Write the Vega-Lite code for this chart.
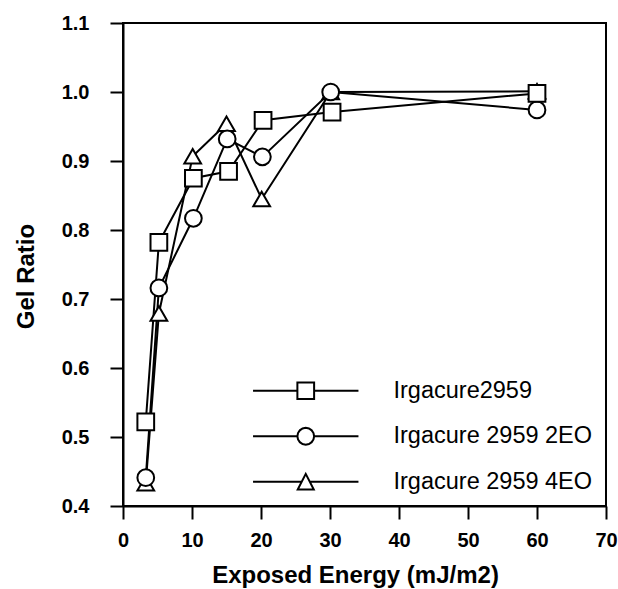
{
  "$schema": "https://vega.github.io/schema/vega-lite/v6.json",
  "autosize": {"type": "none"},
  "padding": {"left": 123, "top": 23, "right": 12, "bottom": 83},
  "width": 483,
  "height": 483,
  "background": "white",
  "config": {
    "font": "Liberation Sans",
    "view": {"stroke": "black", "strokeWidth": 2},
    "axis": {
      "domainColor": "black",
      "domainWidth": 2,
      "tickColor": "black",
      "tickWidth": 2,
      "tickSize": 13,
      "grid": false,
      "labelFont": "Liberation Sans",
      "labelFontWeight": "bold",
      "labelFontSize": 20,
      "labelColor": "black",
      "labelFlush": false,
      "labelOverlap": false,
      "titleFont": "Liberation Sans",
      "titleFontWeight": "bold",
      "titleColor": "black"
    }
  },
  "data": {
    "values": [
      {"series": "Irgacure 2959 4EO", "energy": 3.3, "gel": 0.433},
      {"series": "Irgacure 2959 4EO", "energy": 5.2, "gel": 0.679},
      {"series": "Irgacure 2959 4EO", "energy": 10.1, "gel": 0.907},
      {"series": "Irgacure 2959 4EO", "energy": 15.0, "gel": 0.954},
      {"series": "Irgacure 2959 4EO", "energy": 20.1, "gel": 0.845},
      {"series": "Irgacure 2959 4EO", "energy": 30.1, "gel": 1.0},
      {"series": "Irgacure 2959 4EO", "energy": 60.0, "gel": 1.001},
      {"series": "Irgacure 2959 2EO", "energy": 3.3, "gel": 0.441},
      {"series": "Irgacure 2959 2EO", "energy": 5.2, "gel": 0.716},
      {"series": "Irgacure 2959 2EO", "energy": 10.2, "gel": 0.817},
      {"series": "Irgacure 2959 2EO", "energy": 15.1, "gel": 0.932},
      {"series": "Irgacure 2959 2EO", "energy": 20.2, "gel": 0.906},
      {"series": "Irgacure 2959 2EO", "energy": 30.1, "gel": 1.0},
      {"series": "Irgacure 2959 2EO", "energy": 60.0, "gel": 0.974},
      {"series": "Irgacure2959", "energy": 3.3, "gel": 0.522},
      {"series": "Irgacure2959", "energy": 5.2, "gel": 0.782},
      {"series": "Irgacure2959", "energy": 10.2, "gel": 0.875},
      {"series": "Irgacure2959", "energy": 15.3, "gel": 0.885},
      {"series": "Irgacure2959", "energy": 20.3, "gel": 0.959},
      {"series": "Irgacure2959", "energy": 30.3, "gel": 0.971},
      {"series": "Irgacure2959", "energy": 60.0, "gel": 0.998}
    ]
  },
  "encoding": {
    "x": {
      "field": "energy",
      "type": "quantitative",
      "scale": {"domain": [0, 70], "nice": false, "zero": false},
      "axis": {
        "values": [0, 10, 20, 30, 40, 50, 60, 70],
        "labelPadding": 11,
        "title": "Exposed Energy (mJ/m2)",
        "titleFontSize": 24,
        "titleBaseline": "alphabetic",
        "titleY": 76,
        "titleX": 232
      }
    },
    "y": {
      "field": "gel",
      "type": "quantitative",
      "scale": {"domain": [0.4, 1.1], "nice": false, "zero": false},
      "axis": {
        "values": [0.4, 0.5, 0.6, 0.7, 0.8, 0.9, 1.0, 1.1],
        "format": ".1f",
        "labelPadding": 21,
        "title": "Gel Ratio",
        "titleFontSize": 24,
        "titleAngle": -90,
        "titleBaseline": "alphabetic",
        "titleAlign": "center",
        "titleX": -90,
        "titleY": 253
      }
    }
  },
  "layer": [
    {
      "mark": {"type": "line", "color": "black", "strokeWidth": 2},
      "encoding": {"detail": {"field": "series", "type": "nominal"}}
    },
    {
      "mark": {"type": "point", "filled": true, "fill": "white", "stroke": "black", "strokeWidth": 2, "opacity": 1, "size": 280},
      "encoding": {
        "shape": {
          "field": "series",
          "type": "nominal",
          "scale": {
            "domain": ["Irgacure2959", "Irgacure 2959 2EO", "Irgacure 2959 4EO"],
            "range": ["square", "circle", "triangle-up"]
          },
          "legend": null
        }
      }
    },
    {
      "transform": [{"filter": "false"}],
      "mark": {"type": "point", "filled": false, "color": "black", "strokeWidth": 2, "size": 280},
      "encoding": {
        "shape": {
          "field": "series",
          "type": "nominal",
          "scale": {
            "domain": ["Irgacure2959", "Irgacure 2959 2EO", "Irgacure 2959 4EO"],
            "range": [
              "M-6.3,0H-1M1,0H6.3M-1,-1H1V1H-1Z",
              "M-6.3,0H-1M1,0H6.3M1,0L0.924,0.383L0.707,0.707L0.383,0.924L0,1L-0.383,0.924L-0.707,0.707L-0.924,0.383L-1,0L-0.924,-0.383L-0.707,-0.707L-0.383,-0.924L0,-1L0.383,-0.924L0.707,-0.707L0.924,-0.383Z",
              "M-6.3,0H-0.48M0.48,0H6.3M0,-0.94L0.96,0.94H-0.96Z"
            ]
          },
          "legend": {
            "title": null,
            "orient": "none",
            "legendX": 129,
            "legendY": 356,
            "padding": 0,
            "symbolSize": 280,
            "symbolStrokeWidth": 2,
            "symbolOpacity": 1,
            "symbolOffset": 42,
            "labelOffset": 76,
            "labelFont": "Liberation Sans",
            "labelFontSize": 23.5,
            "labelColor": "black",
            "labelLimit": 400,
            "rowPadding": 19.5
          }
        }
      }
    }
  ],
  "resolve": {"scale": {"shape": "independent"}, "legend": {"shape": "independent"}}
}
